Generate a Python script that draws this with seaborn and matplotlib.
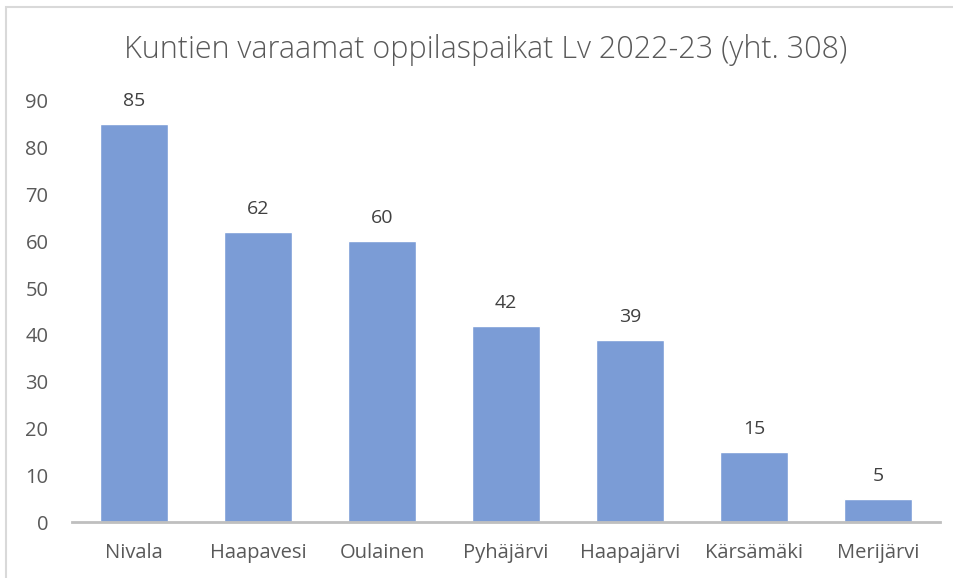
import matplotlib
matplotlib.use("Agg")
import matplotlib.pyplot as plt
import seaborn as sns
import pandas as pd
from matplotlib.patches import Rectangle

sns.set_style("white")
plt.rcParams['font.family'] = ['Open Sans', 'DejaVu Sans']

kunnat = ['Nivala', 'Haapavesi', 'Oulainen', 'Pyhäjärvi', 'Haapajärvi', 'Kärsämäki', 'Merijärvi']
paikat = [85, 62, 60, 42, 39, 15, 5]
yticks = [0, 10, 20, 30, 40, 50, 60, 70, 80, 90]

df = pd.DataFrame({'kunta': kunnat, 'paikat': paikat})

txt = '#595959'
fig = plt.figure(figsize=(9.54, 5.78), dpi=100)
# chart frame (cut off on the right and bottom like the reference)
fig.patches.append(Rectangle((6 / 954, -0.1), 1.1, 1 - 7 / 578 + 0.1, transform=fig.transFigure,
                             fill=False, edgecolor='#d9d9d9', linewidth=1.5))
ax = fig.add_axes([72 / 954, 1 - 522 / 578, (940 - 72) / 954, (522 - 101) / 578])

sns.barplot(data=df, x='kunta', y='paikat', color='#7b9cd6', saturation=1, width=0.55, ax=ax)
for c in ax.containers:
    ax.bar_label(c, labels=[str(v) for v in paikat], padding=10, fontsize=14, color='#404040')

ax.set_ylim(0, 90)
ax.set_xlim(-0.5, len(kunnat) - 0.5)
ax.set_yticks(yticks)
ax.set_xlabel('')
ax.set_ylabel('')
sns.despine(ax=ax, left=True)
ax.spines['bottom'].set_color('#bfbfbf')
ax.spines['bottom'].set_linewidth(2)
ax.tick_params(axis='both', length=0, labelsize=14.5, labelcolor=txt)
ax.tick_params(axis='y', pad=17)
ax.tick_params(axis='x', pad=15)

fig.text(486 / 954, 1 - 50 / 578, 'Kuntien varaamat oppilaspaikat Lv 2022-23 (yht. 308)',
         ha='center', va='center', fontsize=22, color=txt, fontweight='light')

fig.savefig('out.png', dpi=100)
